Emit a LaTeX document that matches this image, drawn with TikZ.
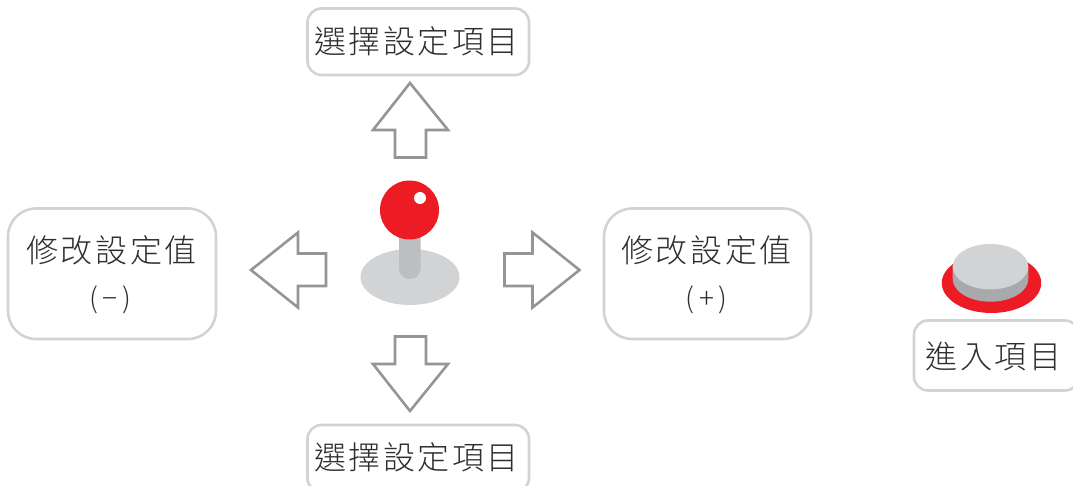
\documentclass[tikz,border=0pt]{standalone}
\usepackage{fontspec}
\newfontfamily\cjk[LetterSpace=8]{Noto Sans CJK TC Light}
\definecolor{boxline}{HTML}{D1D3D4}
\definecolor{arrowline}{HTML}{939598}
\definecolor{txt}{HTML}{2E2E30}
\definecolor{stick}{HTML}{BCBEC0}
\definecolor{btnred}{HTML}{ED1C24}
\definecolor{btnside}{HTML}{A7A9AC}
\tikzset{
  lbl/.style={font=\cjk\fontsize{32}{36}\selectfont,text=txt,inner sep=0pt},
  sym/.style={font=\cjk\fontsize{28}{36}\selectfont,text=txt,inner sep=0pt},
  boxr/.style={draw=boxline,line width=2.6pt,fill=white,rounded corners=#1},
  blockarrow/.style={draw=arrowline,line width=2.6pt,fill=white,line join=miter}
}
\begin{document}
\begin{tikzpicture}[x=1pt,y=-1pt]
\useasboundingbox (0,0) rectangle (1073,486);
% boxes
\begin{scope}
\clip (0,0) rectangle (1073,486);
\draw[boxr=14pt] (307.5,8.5) rectangle (529,75);
\draw[boxr=14pt] (307.5,425) rectangle (529,492);
\draw[boxr=28pt] (8,208.5) rectangle (216,339);
\draw[boxr=28pt] (604,208.5) rectangle (811,339);
\draw[boxr=14pt] (914,320.5) rectangle (1079,390.5);
\end{scope}
% labels
\node[lbl] (top) at (416.5,41.5) {選擇設定項目};
\node[lbl] (bottom) at (416.5,457.5) {選擇設定項目};
\node[lbl] (left) at (111.5,250) {修改設定值};
\node[sym] (leftsym) at (110.5,299.5) {(\kern5pt−\kern5pt)};
\node[lbl] (right) at (706.5,250) {修改設定值};
\node[sym] (rightsym) at (706.5,299.5) {(\kern5pt+\kern5pt)};
\node[lbl] (enter) at (993.5,356) {進入項目};
% arrows
\draw[blockarrow] (410,83) -- (448,130) -- (426,130) -- (426,157.5) -- (395,157.5) -- (395,130) -- (373,130) -- cycle;
\draw[blockarrow] (410,411) -- (448,364) -- (426,364) -- (426,336.5) -- (395,336.5) -- (395,364) -- (373,364) -- cycle;
\draw[blockarrow] (251,270) -- (298,232.5) -- (298,253.5) -- (326,253.5) -- (326,286) -- (298,286) -- (298,307.5) -- cycle;
\draw[blockarrow] (579.5,270) -- (532.5,232.5) -- (532.5,253.5) -- (504.5,253.5) -- (504.5,286) -- (532.5,286) -- (532.5,307.5) -- cycle;
% joystick
\fill[boxline] (410,277) ellipse [x radius=49.5,y radius=28];
\fill[stick,rounded corners=10.5pt] (399,225) rectangle (420.5,279);
\fill[btnred] (409.5,210) circle [radius=29.5];
\fill[white] (420,198) circle [radius=6];
% button
\fill[btnred] (991.5,283) ellipse [x radius=49.7,y radius=30];
\fill[btnside] (952.7,267) -- (952.7,279) arc [start angle=180,end angle=360,x radius=37.8,y radius=-22.7] -- (1028.3,267) -- cycle;
\fill[boxline] (990.5,266.7) ellipse [x radius=37.8,y radius=22.7];
\end{tikzpicture}
\end{document}
